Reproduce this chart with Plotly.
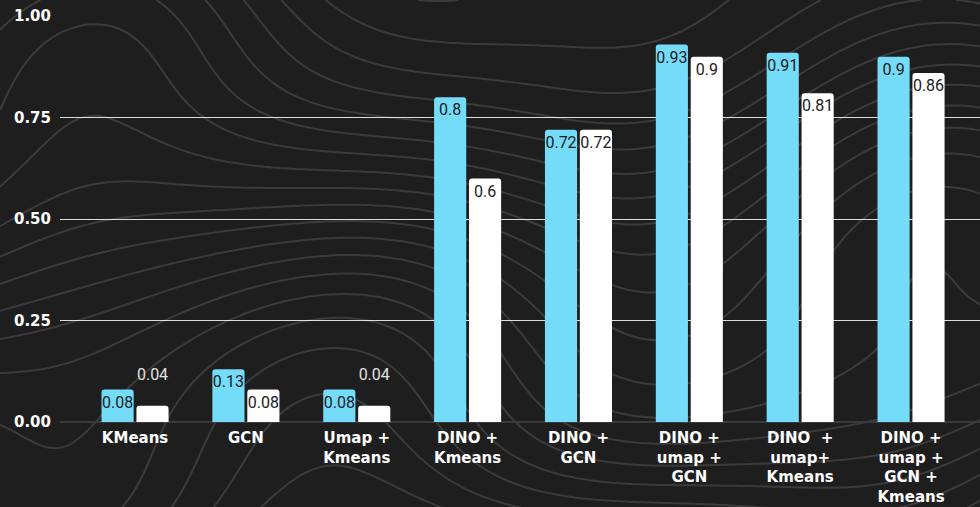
import numpy as np
import plotly.graph_objects as go

# Chart data
methods = [
    "KMeans",
    "GCN",
    "Umap +<br>Kmeans",
    "DINO +<br>Kmeans",
    "DINO +<br>GCN",
    "DINO +<br>umap +<br>GCN",
    "DINO \u00a0+<br>umap+<br>Kmeans",
    "DINO +<br>umap +<br>GCN +<br>Kmeans",
]
cyan_scores = [0.08, 0.13, 0.08, 0.80, 0.72, 0.93, 0.91, 0.90]
white_scores = [0.04, 0.08, 0.04, 0.60, 0.72, 0.90, 0.81, 0.86]
y_ticks = [0.0, 0.25, 0.5, 0.75, 1.0]
y_tick_labels = ["0.00", "0.25", "0.50", "0.75", "1.00"]

W, H = 980, 507
BG = "#1e1e1e"
CYAN = "#74dcf9"

# Decorative topographic backdrop (pixel coordinates of the whole page)
u = np.arange(0, W + 10, 8)
v = np.arange(0, H + 10, 8)
U, V = np.meshgrid(u, v)
terrain = (V / 38.0
           + 1.7 * np.sin(U / 125.0 - V / 210.0 + 0.8)
           + 0.9 * np.cos(V / 62.0 + U / 290.0)
           + 0.6 * np.sin(U / 70.0 + V / 140.0))

fig = go.Figure()

fig.add_trace(go.Contour(
    x=u, y=v, z=terrain,
    xaxis="x", yaxis="y",
    contours=dict(coloring="lines", start=-10, end=30, size=0.85),
    colorscale=[[0, "#3b3b3b"], [1, "#3b3b3b"]],
    line=dict(width=2, smoothing=1.3),
    showscale=False, hoverinfo="skip",
))


def bar_text(scores):
    # short bars carry their label above, lifted by a small blank line
    positions = ["inside" if s >= 0.06 else "outside" for s in scores]
    templates = [
        "%{y}" if p == "inside"
        else "%{y}<br><span style='font-size:9px'>\u00a0</span>"
        for p in positions
    ]
    return positions, templates


common = dict(
    x=methods,
    xaxis="x2", yaxis="y2",
    textangle=0,
    insidetextanchor="end",
    constraintext="none",
    insidetextfont=dict(family="Roboto", size=16, color="#1b1b1b"),
    outsidetextfont=dict(family="Roboto", size=16, color="#e2e2e2"),
    cliponaxis=False,
    hoverinfo="skip",
)

pos_c, tpl_c = bar_text(cyan_scores)
fig.add_trace(go.Bar(
    y=cyan_scores,
    marker=dict(color=CYAN, cornerradius=3, line=dict(width=0)),
    textposition=pos_c, texttemplate=tpl_c,
    **common,
))
pos_w, tpl_w = bar_text(white_scores)
fig.add_trace(go.Bar(
    y=white_scores,
    marker=dict(color="#ffffff", cornerradius=3, line=dict(width=0)),
    textposition=pos_w, texttemplate=tpl_w,
    **common,
))

fig.update_layout(
    width=W, height=H,
    margin=dict(l=0, r=0, t=0, b=0),
    paper_bgcolor=BG, plot_bgcolor="rgba(0,0,0,0)",
    showlegend=False,
    barmode="group",
    bargap=0.37,
    bargroupgap=0.08,
    xaxis=dict(domain=[0, 1], range=[0, W], visible=False, fixedrange=True,
               automargin=False),
    yaxis=dict(domain=[0, 1], range=[H, 0], visible=False, fixedrange=True,
               automargin=False),
    xaxis2=dict(
        domain=[60 / W, 1], anchor="y2",
        range=[-0.677, 7.622],
        automargin=False,
        showgrid=False, showline=False, ticks="",
        ticklabelstandoff=5,
        tickfont=dict(family="DejaVu Sans", size=15, color="#ffffff", weight="bold"),
    ),
    yaxis2=dict(
        domain=[85 / H, 1 - 16 / H], anchor="x2",
        range=[0, 1.0005],
        automargin=False,
        tickvals=y_ticks, ticktext=y_tick_labels,
        showgrid=True, gridcolor="rgba(255,255,255,0.85)", gridwidth=1,
        zeroline=True, zerolinecolor="#3a3a3a", zerolinewidth=2,
        showline=False, ticks="",
        ticklabelstandoff=8,
        tickfont=dict(family="DejaVu Sans", size=15, color="#ffffff", weight="bold"),
    ),
)

fig.write_html("out.html")
